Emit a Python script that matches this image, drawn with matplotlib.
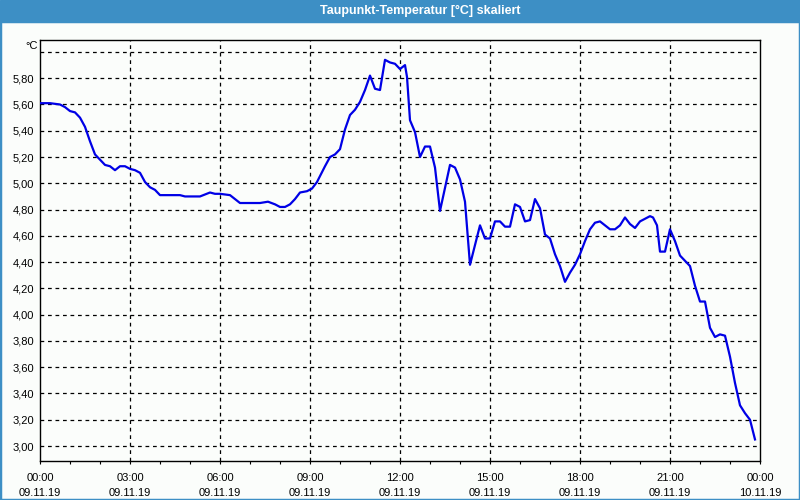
import numpy as np
import matplotlib
matplotlib.use('Agg')
import matplotlib.pyplot as plt
from matplotlib.patches import Rectangle
from matplotlib.ticker import MultipleLocator, FixedLocator

plt.rcParams['font.family'] = ['Liberation Sans', 'DejaVu Sans']

# Messzeiten (09.11.19) und Taupunkt in °C
times = ["00:00", "00:20", "00:40", "00:50", "01:00", "01:10", "01:20", "01:30",
         "01:40", "01:50", "02:00", "02:10", "02:20", "02:30", "02:40", "02:50",
         "03:00", "03:10", "03:20", "03:30", "03:40", "03:50", "04:00", "04:20",
         "04:40", "04:50", "05:20", "05:40", "05:50", "06:00", "06:20", "06:40",
         "07:20", "07:36", "07:50", "08:00", "08:10", "08:20", "08:30", "08:40",
         "08:54", "09:04", "09:14", "09:30", "09:40", "09:50", "10:00", "10:10",
         "10:20", "10:30", "10:40", "10:50", "11:00", "11:10", "11:20", "11:30",
         "11:40", "11:50", "12:00", "12:10", "12:14", "12:20", "12:30", "12:40",
         "12:50", "13:00", "13:10", "13:20", "13:40", "13:50", "14:00", "14:10",
         "14:20", "14:40", "14:50", "15:00", "15:10", "15:20", "15:30", "15:40",
         "15:50", "16:00", "16:10", "16:20", "16:30", "16:40", "16:50", "17:00",
         "17:10", "17:20", "17:30", "17:40", "17:50", "18:00", "18:10", "18:20",
         "18:30", "18:40", "18:50", "19:00", "19:10", "19:20", "19:30", "19:40",
         "19:50", "20:00", "20:10", "20:20", "20:26", "20:34", "20:40", "20:50",
         "21:00", "21:10", "21:20", "21:30", "21:40", "21:50", "22:00", "22:10",
         "22:20", "22:30", "22:40", "22:50", "23:00", "23:10", "23:20", "23:30",
         "23:40", "23:50"]
dewpoint = [5.61, 5.61, 5.60, 5.58, 5.55, 5.54, 5.50, 5.43,
            5.32, 5.22, 5.18, 5.14, 5.13, 5.10, 5.13, 5.13,
            5.11, 5.10, 5.08, 5.01, 4.97, 4.95, 4.91, 4.91,
            4.91, 4.90, 4.90, 4.93, 4.92, 4.92, 4.91, 4.85,
            4.85, 4.86, 4.84, 4.82, 4.82, 4.84, 4.88, 4.93,
            4.94, 4.96, 5.01, 5.13, 5.20, 5.22, 5.26, 5.41,
            5.52, 5.56, 5.62, 5.71, 5.82, 5.72, 5.71, 5.94,
            5.92, 5.91, 5.87, 5.90, 5.81, 5.48, 5.39, 5.20,
            5.28, 5.28, 5.12, 4.79, 5.14, 5.12, 5.03, 4.86,
            4.38, 4.68, 4.58, 4.58, 4.71, 4.71, 4.67, 4.67,
            4.84, 4.82, 4.71, 4.72, 4.88, 4.81, 4.61, 4.58,
            4.46, 4.37, 4.25, 4.32, 4.38, 4.46, 4.56, 4.65,
            4.70, 4.71, 4.68, 4.65, 4.65, 4.68, 4.74, 4.69,
            4.66, 4.71, 4.73, 4.75, 4.74, 4.68, 4.48, 4.48,
            4.65, 4.56, 4.45, 4.41, 4.37, 4.22, 4.10, 4.10,
            3.90, 3.83, 3.85, 3.84, 3.68, 3.48, 3.31, 3.25,
            3.20, 3.05]

tick_hours = [0, 3, 6, 9, 12, 15, 18, 21, 24]
tick_labels = ["00:00\n09.11.19", "03:00\n09.11.19", "06:00\n09.11.19",
               "09:00\n09.11.19", "12:00\n09.11.19", "15:00\n09.11.19",
               "18:00\n09.11.19", "21:00\n09.11.19", "00:00\n10.11.19"]
y_ticks = [3.0, 3.2, 3.4, 3.6, 3.8, 4.0, 4.2, 4.4, 4.6, 4.8, 5.0, 5.2, 5.4, 5.6, 5.8]

hours = [int(t[:2]) + int(t[3:]) / 60 for t in times]

bar_color = '#3d8fc5'
bg = '#fbfdfb'

fig = plt.figure(figsize=(8, 5), dpi=100, facecolor=bg)
ax = fig.add_axes([0.05, 0.078, 0.90, 0.842])
ax.set_facecolor(bg)

# Titelleiste und Fensterrand
fig.patches.append(Rectangle((0, 0.958), 1, 0.042, transform=fig.transFigure,
                             color=bar_color, zorder=0))
fig.patches.append(Rectangle((0, 0), 1, 0.958, transform=fig.transFigure,
                             fill=False, edgecolor=bar_color, linewidth=2.5, zorder=0))
fig.text(0.525, 0.979, 'Taupunkt-Temperatur [°C] skaliert', color='white',
         fontsize=9, fontweight='bold', ha='center', va='center')

ax.plot(hours, dewpoint, color='#0000e6', linewidth=1.6, zorder=3)

ax.set_xlim(0, 24)
ax.set_ylim(2.886, 6.091)

ax.set_xticks(tick_hours)
ax.set_xticklabels(tick_labels, fontsize=8, linespacing=1.6)
ax.xaxis.set_minor_locator(MultipleLocator(1))
ax.set_yticks(y_ticks)
ax.set_yticklabels([f"{v:.2f}".replace('.', ',') for v in y_ticks], fontsize=8)

ax.tick_params(axis='x', which='both', length=2.5, width=0.8, pad=6, colors='black')
ax.tick_params(axis='y', length=0, pad=4)

# Gitter (inkl. 6,00 ohne Beschriftung)
for v in y_ticks + [6.0]:
    ax.axhline(v, color='black', linewidth=0.9, linestyle=(0, (3, 3)), zorder=1)
for h in tick_hours[1:-1]:
    ax.axvline(h, color='black', linewidth=0.9, linestyle=(0, (3, 3)), zorder=1)

for s in ax.spines.values():
    s.set_linewidth(1.0)
    s.set_color('black')

fig.text(0.039, 0.908, '°C', fontsize=8, ha='center', va='center')

fig.savefig('out.png', dpi=100, facecolor=bg)
